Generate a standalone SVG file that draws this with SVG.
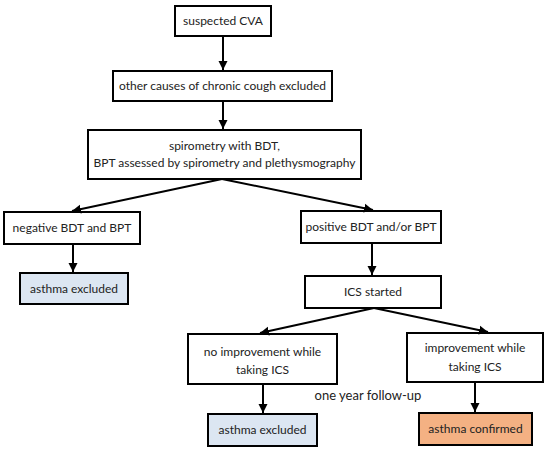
<svg xmlns="http://www.w3.org/2000/svg" width="550" height="454" viewBox="0 0 550 454">
<style>
.box{fill:#ffffff;stroke:#000000;stroke-width:2}
.blue{fill:#dce6f2}
.orange{fill:#f4b183}
text{font-family:Lato,"Liberation Sans",sans-serif;font-size:12px;fill:#222222;text-anchor:middle}
.conn line{stroke:#000000;stroke-width:2;marker-end:url(#ah)}
</style>
<defs>
<marker id="ah" markerWidth="10" markerHeight="10" viewBox="0 0 10 10" refX="9" refY="5" orient="auto" markerUnits="userSpaceOnUse">
<path d="M0,0.5 L9,5 L0,9.5 Z" fill="#000000"/>
</marker>
</defs>
<rect width="550" height="454" fill="#ffffff"/>
<g id="n1"><rect class="box" x="175" y="6" width="96" height="30"/><text x="223" y="25">suspected CVA</text></g>
<g id="n2"><rect class="box" x="113" y="71" width="219" height="30"/><text x="222.5" y="90">other causes of chronic cough excluded</text></g>
<g id="n3"><rect class="box" x="88" y="130" width="273" height="49"/><text x="224.5" y="150">spirometry with BDT,</text><text x="224.5" y="167">BPT assessed by spirometry and plethysmography</text></g>
<g id="n4"><rect class="box" x="4" y="212" width="136" height="32"/><text x="72" y="232">negative BDT and BPT</text></g>
<g id="n5"><rect class="box" x="301" y="211" width="140" height="32"/><text x="371" y="231">positive BDT and/or BPT</text></g>
<g id="n6"><rect class="box blue" x="20" y="273" width="108" height="31"/><text x="74" y="293">asthma excluded</text></g>
<g id="n7"><rect class="box" x="305" y="276" width="136" height="32"/><text x="373" y="296">ICS started</text></g>
<g id="n8"><rect class="box" x="188" y="334" width="149" height="50"/><text x="262.5" y="356">no improvement while</text><text x="262.5" y="374">taking ICS</text></g>
<g id="n9"><rect class="box" x="407" y="333" width="136" height="49"/><text x="475" y="352">improvement while</text><text x="475" y="371">taking ICS</text></g>
<g id="n10"><rect class="box blue" x="208" y="414" width="109" height="32"/><text x="262.5" y="434">asthma excluded</text></g>
<g id="n11"><rect class="box orange" x="419" y="413" width="113" height="32"/><text x="475.5" y="433">asthma confirmed</text></g>
<text id="lbl" x="368" y="400" style="font-size:13px">one year follow-up</text>
<g class="conn">
<line x1="223" y1="36" x2="223" y2="70"/>
<line x1="223" y1="101" x2="223" y2="129"/>
<line x1="222" y1="179" x2="72" y2="211"/>
<line x1="222" y1="179" x2="373" y2="210"/>
<line x1="73" y1="244" x2="73" y2="272"/>
<line x1="372" y1="243" x2="372" y2="275"/>
<line x1="374" y1="308" x2="260" y2="333"/>
<line x1="374" y1="308" x2="488" y2="332"/>
<line x1="263" y1="384" x2="263" y2="413"/>
<line x1="475" y1="382" x2="475" y2="412"/>
</g>
</svg>
